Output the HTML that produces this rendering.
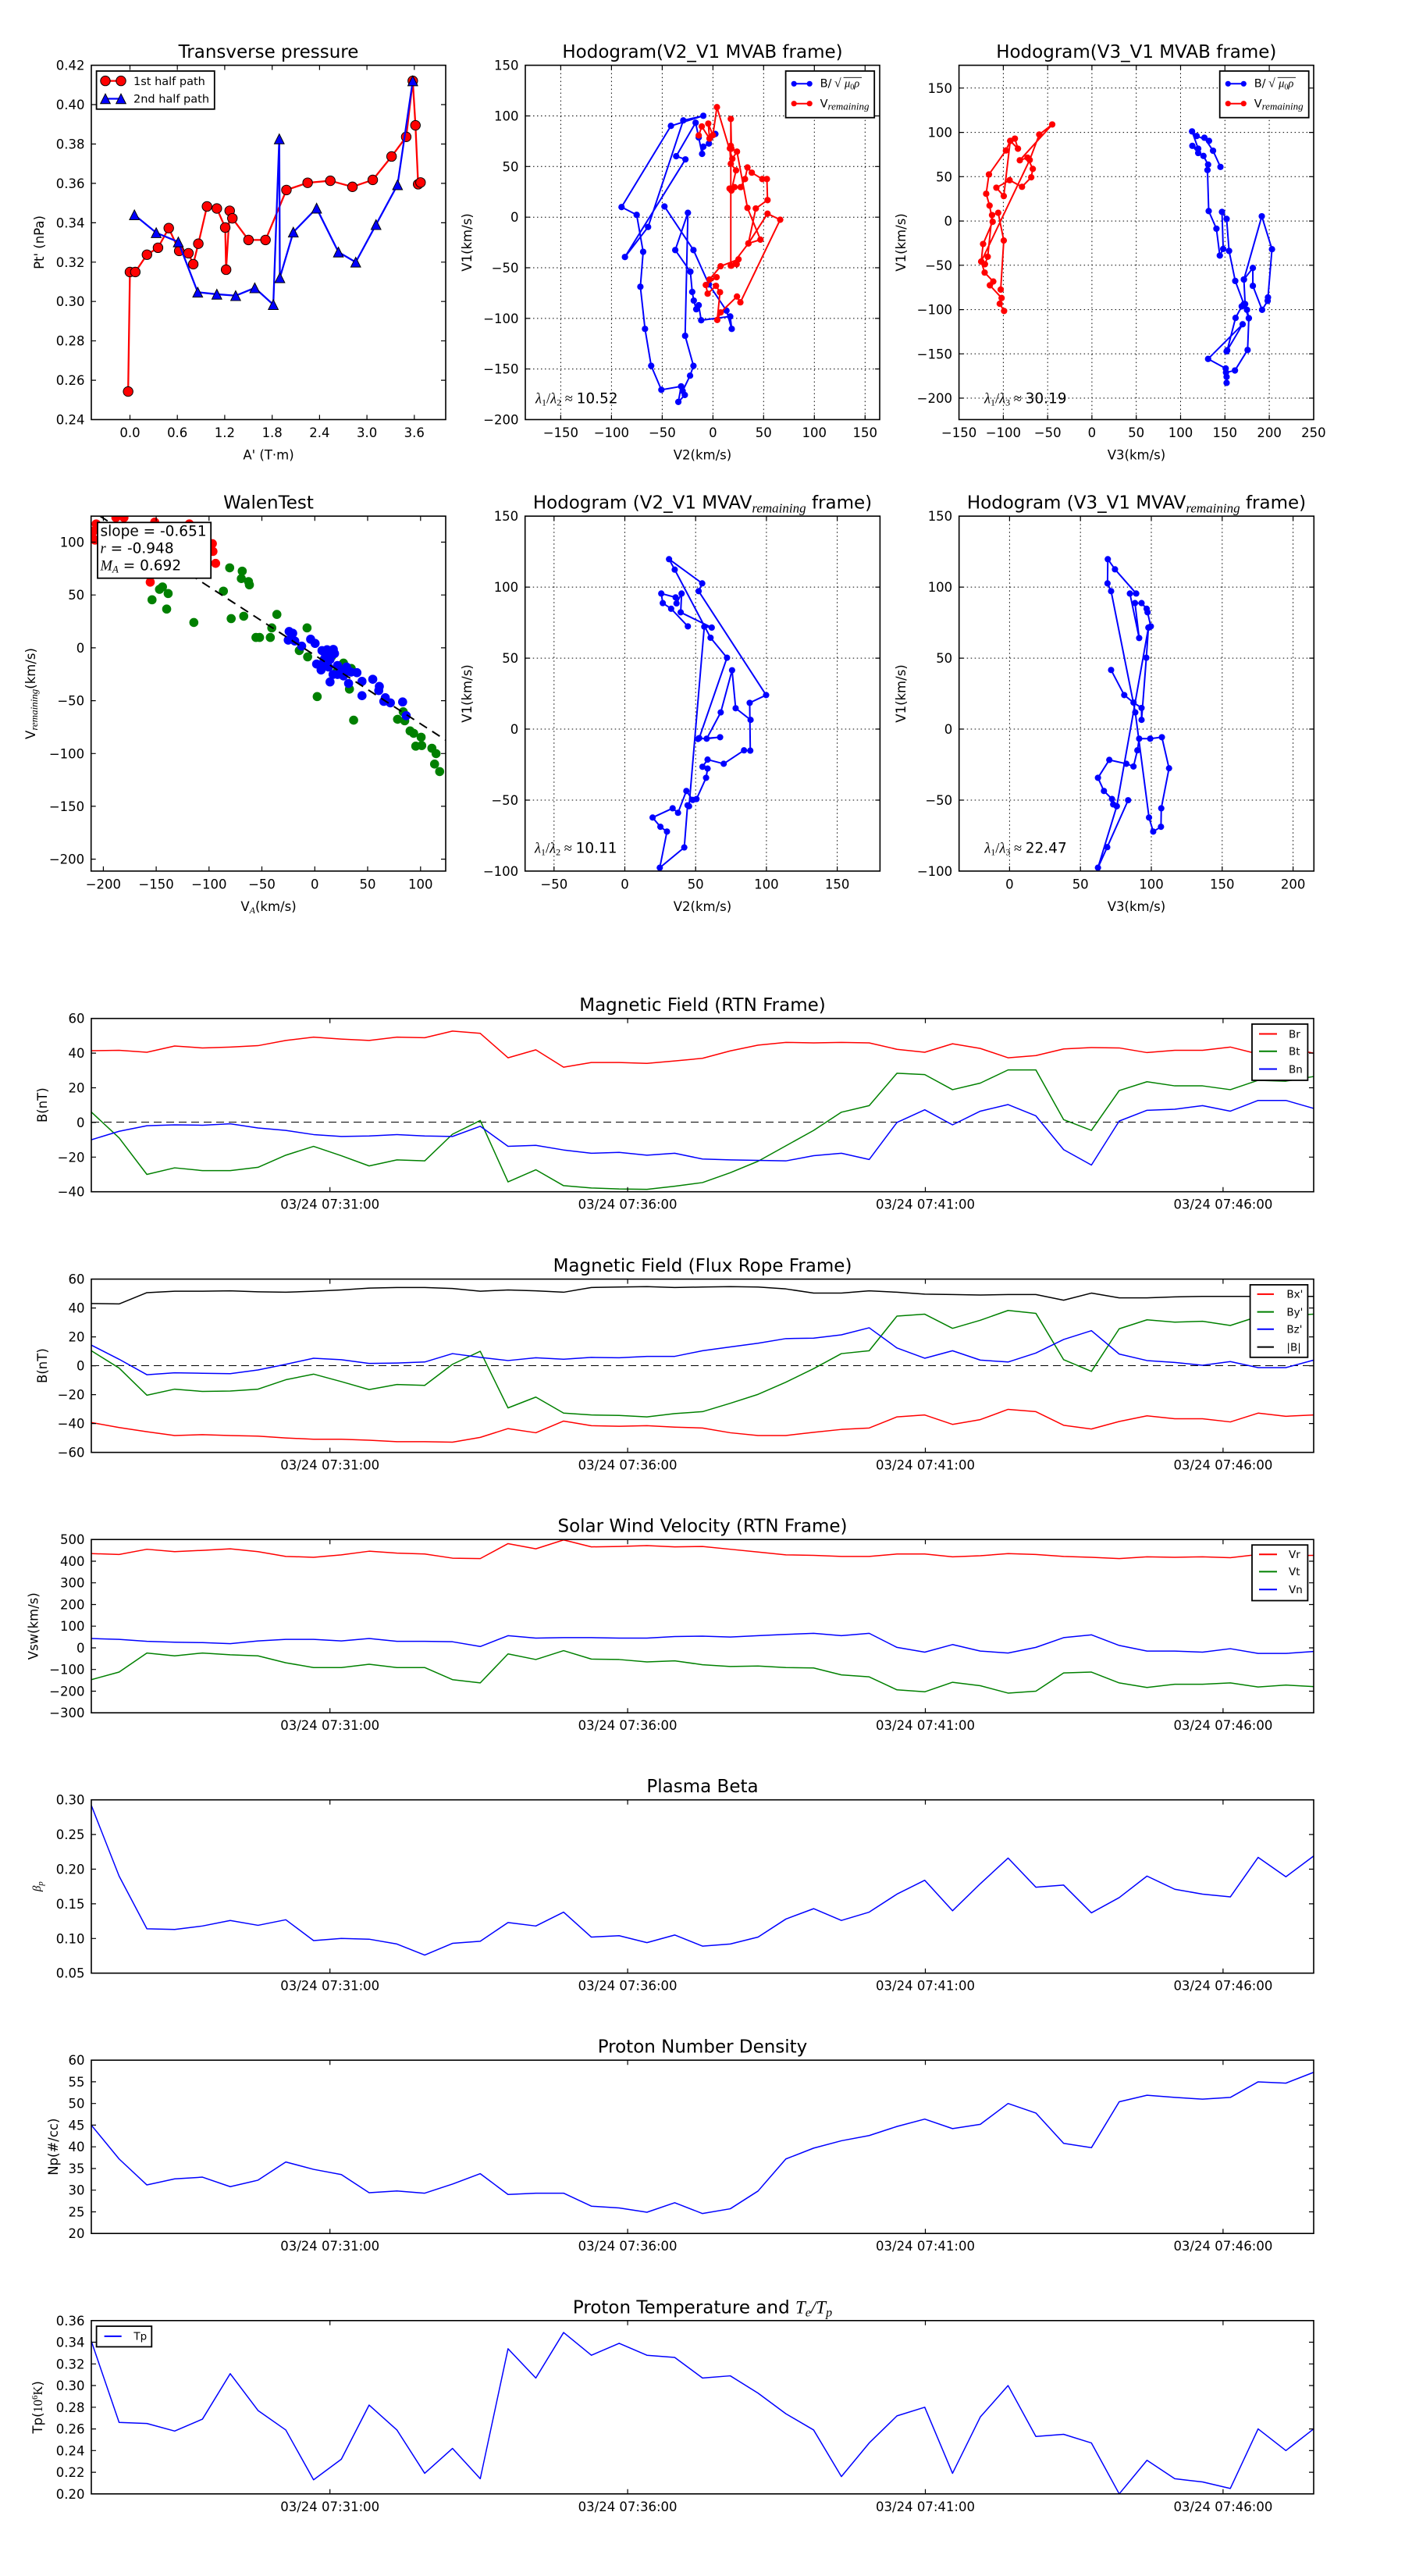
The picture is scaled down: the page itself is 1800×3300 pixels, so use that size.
<!DOCTYPE html>
<html><head><meta charset="utf-8"><style>
html,body{margin:0;padding:0;background:#fff;}
svg{display:block;}
text{font-family:"DejaVu Sans","Liberation Sans",sans-serif;fill:#000;}
.ti{font-size:23px;text-anchor:middle;}
.tk{font-size:16.5px;}
.tx{font-size:16.5px;text-anchor:middle;}
.ty{font-size:16.5px;text-anchor:end;}
.lb{font-size:16.5px;text-anchor:middle;}
.m{font-family:"Liberation Serif","DejaVu Serif",serif;font-style:italic;}
.mn{font-family:"Liberation Serif","DejaVu Serif",serif;font-style:normal;}
.ln{fill:none;vector-effect:non-scaling-stroke;stroke-linejoin:round;}
.sp{fill:none;stroke:#000;stroke-width:1.6;}
.tkp{fill:none;stroke:#000;stroke-width:1.2;}
.gr{fill:none;stroke:#000;stroke-width:1;stroke-dasharray:1.5 3.5;}
.lg{fill:#fff;stroke:#000;stroke-width:1.8;}
.lt{font-size:14.5px;}
.ls{font-size:13.5px;}
</style></head><body>
<svg width="1800" height="3300" viewBox="0 0 1800 3300" xmlns="http://www.w3.org/2000/svg">
<rect x="0" y="0" width="1800" height="3300" fill="#fff"/>
<defs>
<marker id="mc" markerUnits="userSpaceOnUse" markerWidth="40" markerHeight="40" refX="0" refY="0" overflow="visible"><ellipse cx="0" cy="0" rx="16.2" ry="16.76" fill="#f00" stroke="#000" stroke-width="2.6"/></marker>
<marker id="mt" markerUnits="userSpaceOnUse" markerWidth="40" markerHeight="40" refX="0" refY="0" overflow="visible"><path d="M0 -17L-16.5 17L16.5 17Z" fill="#00f" stroke="#000" stroke-width="2.6"/></marker>
<marker id="mb1" markerUnits="userSpaceOnUse" markerWidth="30" markerHeight="30" refX="0" refY="0" overflow="visible"><ellipse cx="0" cy="0" rx="10.4" ry="11.1" fill="#00f"/></marker>
<marker id="mr1" markerUnits="userSpaceOnUse" markerWidth="30" markerHeight="30" refX="0" refY="0" overflow="visible"><ellipse cx="0" cy="0" rx="10.4" ry="11.1" fill="#f00"/></marker>
<marker id="mb2" markerUnits="userSpaceOnUse" markerWidth="30" markerHeight="30" refX="0" refY="0" overflow="visible"><circle cx="0" cy="0" r="10.6" fill="#00f"/></marker>
<marker id="wr" markerUnits="userSpaceOnUse" markerWidth="40" markerHeight="40" refX="0" refY="0" overflow="visible"><circle cx="0" cy="0" r="15.2" fill="#f00"/></marker>
<marker id="wg" markerUnits="userSpaceOnUse" markerWidth="40" markerHeight="40" refX="0" refY="0" overflow="visible"><circle cx="0" cy="0" r="15.2" fill="#008000"/></marker>
<marker id="wb" markerUnits="userSpaceOnUse" markerWidth="40" markerHeight="40" refX="0" refY="0" overflow="visible"><circle cx="0" cy="0" r="15.2" fill="#00f"/></marker>
<clipPath id="cw"><rect x="116.7" y="661.2" width="454.3" height="454.7"/></clipPath>
</defs>

<!-- ============ ROW 1 PANEL 1: Transverse pressure ============ -->
<g transform="scale(0.38265,0.3699)">
<polyline class="ln" stroke="#f00" stroke-width="2.3" marker-start="url(#mc)" marker-mid="url(#mc)" marker-end="url(#mc)" points="429,1356 435,942 453,942 492,882 529,858 565,790 600,869 631,877 647,915 664,844 693,715 726,722 754,788 757,934 769,730 778,756 832,831 889,831 959,658 1030,633 1106,626 1180,647 1248,623 1311,542 1360,474 1382,280 1391,434 1400,638 1408,632"/>
<polyline class="ln" stroke="#00f" stroke-width="2.3" marker-start="url(#mt)" marker-mid="url(#mt)" marker-end="url(#mt)" points="450,744 523,806 597,838 662,1012 726,1019 789,1024 853,997 915,1055 935,481 937,962 982,804 1060,721 1133,873 1191,908 1259,778 1331,640 1382,280"/>
</g>
<rect class="sp" x="117" y="83.6" width="454" height="453.9"/>
<path class="tkp" d="M166.5 537.5v-6M166.5 83.6v6M227.2 537.5v-6M227.2 83.6v6M287.9 537.5v-6M287.9 83.6v6M348.7 537.5v-6M348.7 83.6v6M409.4 537.5v-6M409.4 83.6v6M470.1 537.5v-6M470.1 83.6v6M530.8 537.5v-6M530.8 83.6v6M117 134h6M571 134h-6M117 184.5h6M571 184.5h-6M117 234.9h6M571 234.9h-6M117 285.4h6M571 285.4h-6M117 335.8h6M571 335.8h-6M117 386.2h6M571 386.2h-6M117 436.7h6M571 436.7h-6M117 487.1h6M571 487.1h-6"/>
<text class="ti" x="344" y="74">Transverse pressure</text>
<text class="tx" x="166.5" y="560">0.0</text><text class="tx" x="227.2" y="560">0.6</text><text class="tx" x="287.9" y="560">1.2</text><text class="tx" x="348.7" y="560">1.8</text><text class="tx" x="409.4" y="560">2.4</text><text class="tx" x="470.1" y="560">3.0</text><text class="tx" x="530.8" y="560">3.6</text>
<text class="ty" x="108.5" y="89.6">0.42</text><text class="ty" x="108.5" y="140">0.40</text><text class="ty" x="108.5" y="190.5">0.38</text><text class="ty" x="108.5" y="240.9">0.36</text><text class="ty" x="108.5" y="291.4">0.34</text><text class="ty" x="108.5" y="341.8">0.32</text><text class="ty" x="108.5" y="392.2">0.30</text><text class="ty" x="108.5" y="442.7">0.28</text><text class="ty" x="108.5" y="493.1">0.26</text><text class="ty" x="108.5" y="543.5">0.24</text>
<text class="lb" x="344" y="588.5">A' (T·m)</text>
<text class="lb" transform="translate(56,310.5) rotate(-90)">Pt' (nPa)</text>
<rect class="lg" x="123.6" y="91" width="151.2" height="48.8"/>
<line x1="135" y1="103.6" x2="155" y2="103.6" stroke="#f00" stroke-width="2.3"/>
<circle cx="135" cy="103.6" r="6.2" fill="#f00" stroke="#000" stroke-width="1"/><circle cx="155" cy="103.6" r="6.2" fill="#f00" stroke="#000" stroke-width="1"/>
<line x1="135" y1="126.5" x2="155" y2="126.5" stroke="#00f" stroke-width="2.3"/>
<path d="M135 120.2l-6.3 12.6h12.6zM155 120.2l-6.3 12.6h12.6z" fill="#00f" stroke="#000" stroke-width="1"/>
<text class="lt" x="171" y="108.8">1st half path</text>
<text class="lt" x="171" y="131.7">2nd half path</text>

<!-- ============ ROW 1 PANEL 2 ============ -->
<path class="gr" d="M718.4 83.6V537.5M783.4 83.6V537.5M848.4 83.6V537.5M913.4 83.6V537.5M978.3 83.6V537.5M1043.3 83.6V537.5M1108.3 83.6V537.5M673 148.5H1127M673 213.3H1127M673 278.2H1127M673 343H1127M673 407.9H1127M673 472.7H1127"/>
<g transform="translate(580,0) scale(0.39541,0.3699)">
<polyline class="ln" stroke="#00f" stroke-width="2" marker-start="url(#mb1)" marker-mid="url(#mb1)" marker-end="url(#mb1)" points="686,715 780,866 830,985 887,1076 904,1139 899,1096 805,1109 797,1057 789,1071 781,1041 776,1011 770,941 721,866 762,737 753,1163 780,1267 769,1301 745,1354 752,1368 731,1392 740,1338 676,1350 643,1267 623,1139 608,993 617,872 596,744 547,717 707,436 812,401 747,417 633,786 558,890 754,552 724,541 787,425 797,476 808,533 812,508 830,497 851,464"/>
<polyline class="ln" stroke="#f00" stroke-width="2" marker-start="url(#mr1)" marker-mid="url(#mr1)" marker-end="url(#mr1)" points="797,469 807,438 832,480 828,428 843,468 856,371 906,550 921,525 955,720 997,830 958,843 982,722 1020,693 1018,620 1003,620 969,598 955,580 947,620 933,648 913,648 897,653 903,660 918,590 901,567 898,514 901,505 903,515 901,412 901,920 920,915 926,898 868,922 832,968 855,960 820,987 826,1017 853,990 866,1012 857,1108 868,1082 921,1027 932,1047 1061,761 1020,740 958,843 903,920"/>
</g>
<rect class="sp" x="673" y="83.6" width="454" height="453.9"/>
<path class="tkp" d="M718.4 537.5v-6M718.4 83.6v6M783.4 537.5v-6M783.4 83.6v6M848.4 537.5v-6M848.4 83.6v6M913.4 537.5v-6M913.4 83.6v6M978.3 537.5v-6M978.3 83.6v6M1043.3 537.5v-6M1043.3 83.6v6M1108.3 537.5v-6M1108.3 83.6v6M673 148.5h6M1127 148.5h-6M673 213.3h6M1127 213.3h-6M673 278.2h6M1127 278.2h-6M673 343h6M1127 343h-6M673 407.9h6M1127 407.9h-6M673 472.7h6M1127 472.7h-6"/>
<text class="ti" x="900" y="74">Hodogram(V2_V1 MVAB frame)</text>
<text class="tx" x="718.4" y="560">−150</text><text class="tx" x="783.4" y="560">−100</text><text class="tx" x="848.4" y="560">−50</text><text class="tx" x="913.4" y="560">0</text><text class="tx" x="978.3" y="560">50</text><text class="tx" x="1043.3" y="560">100</text><text class="tx" x="1108.3" y="560">150</text>
<text class="ty" x="664.5" y="89.6">150</text><text class="ty" x="664.5" y="154.5">100</text><text class="ty" x="664.5" y="219.3">50</text><text class="ty" x="664.5" y="284.2">0</text><text class="ty" x="664.5" y="349">−50</text><text class="ty" x="664.5" y="413.9">−100</text><text class="ty" x="664.5" y="478.7">−150</text><text class="ty" x="664.5" y="543.5">−200</text>
<text class="lb" x="900" y="588.5">V2(km/s)</text>
<text class="lb" transform="translate(604,310.5) rotate(-90)">V1(km/s)</text>
<text x="686" y="516.5" font-size="18.5"><tspan class="m">λ</tspan><tspan class="mn" font-size="12" dy="3">1</tspan><tspan class="mn" dy="-3">/</tspan><tspan class="m">λ</tspan><tspan class="mn" font-size="12" dy="3">2</tspan><tspan class="mn" dy="-3">&#160;≈&#160;</tspan>10.52</text>
<rect class="lg" x="1006.6" y="91" width="113.6" height="59.7"/>
<line x1="1017.2" y1="107.3" x2="1037.2" y2="107.3" stroke="#00f" stroke-width="2"/><circle cx="1017.2" cy="107.3" r="3.6" fill="#00f"/><circle cx="1037.2" cy="107.3" r="3.6" fill="#00f"/>
<line x1="1017.2" y1="132.7" x2="1037.2" y2="132.7" stroke="#f00" stroke-width="2"/><circle cx="1017.2" cy="132.7" r="3.6" fill="#f00"/><circle cx="1037.2" cy="132.7" r="3.6" fill="#f00"/>
<text class="lt" x="1050.6" y="111.7">B/<tspan class="mn" x="1068.9" font-size="16">√</tspan><tspan class="m" x="1082">μ</tspan><tspan class="mn" font-size="10" dy="3">0</tspan><tspan class="m" dy="-3">ρ</tspan></text>
<line x1="1080.6" y1="99.3" x2="1104" y2="99.3" stroke="#000" stroke-width="0.9"/>
<text class="lt" x="1050.6" y="137.3">V<tspan class="m" font-size="13" dy="3">remaining</tspan></text>

<!-- ============ ROW 1 PANEL 3 ============ -->
<path class="gr" d="M1285.4 83.6V537.5M1342.2 83.6V537.5M1398.9 83.6V537.5M1455.7 83.6V537.5M1512.5 83.6V537.5M1569.3 83.6V537.5M1626.1 83.6V537.5M1228.6 112.8H1683M1228.6 169.6H1683M1228.6 226.3H1683M1228.6 283.1H1683M1228.6 339.8H1683M1228.6 396.6H1683M1228.6 453.3H1683M1228.6 510H1683"/>
<g transform="translate(1180,0) scale(0.39541,0.3699)">
<polyline class="ln" stroke="#00f" stroke-width="2" marker-start="url(#mb1)" marker-mid="url(#mb1)" marker-end="url(#mb1)" points="970,578 946,522 918,477 933,488 893,471 878,455 898,515 879,505 898,530 915,540 930,570 928,589 932,731 957,792 968,885 979,862 975,734 990,758 998,869 1018,973 1046,1053 1062,1102 1056,1073 1039,1061 1019,1101 992,1213 990,1217 1042,1123 930,1243 987,1276 990,1305 990,1326 988,1290 1017,1283 1058,1212 1062,1102 1050,1053 1046,968 1104,749 1137,863 1124,1030 1123,1042 1105,1073 1075,990 1075,928 1046,968"/>
<polyline class="ln" stroke="#f00" stroke-width="2" marker-start="url(#mr1)" marker-mid="url(#mr1)" marker-end="url(#mr1)" points="269,1077 255,1052 261,1032 223,988 234,975 206,944 195,906 201,845 232,768 222,712 211,671 220,604 275,521 289,488 304,480 314,515 289,488 268,679 244,650 287,624 327,647 357,614 362,585 345,546 320,555 425,431 383,466 352,554 195,906 207,915 216,889 230,745 250,737 268,833 258,1003"/>
</g>
<rect class="sp" x="1228.6" y="83.6" width="454.4" height="453.9"/>
<path class="tkp" d="M1285.4 537.5v-6M1285.4 83.6v6M1342.2 537.5v-6M1342.2 83.6v6M1398.9 537.5v-6M1398.9 83.6v6M1455.7 537.5v-6M1455.7 83.6v6M1512.5 537.5v-6M1512.5 83.6v6M1569.3 537.5v-6M1569.3 83.6v6M1626.1 537.5v-6M1626.1 83.6v6M1228.6 112.8h6M1683 112.8h-6M1228.6 169.6h6M1683 169.6h-6M1228.6 226.3h6M1683 226.3h-6M1228.6 283.1h6M1683 283.1h-6M1228.6 339.8h6M1683 339.8h-6M1228.6 396.6h6M1683 396.6h-6M1228.6 453.3h6M1683 453.3h-6M1228.6 510h6M1683 510h-6"/>
<text class="ti" x="1455.8" y="74">Hodogram(V3_V1 MVAB frame)</text>
<text class="tx" x="1228.6" y="560">−150</text><text class="tx" x="1285.4" y="560">−100</text><text class="tx" x="1342.2" y="560">−50</text><text class="tx" x="1398.9" y="560">0</text><text class="tx" x="1455.7" y="560">50</text><text class="tx" x="1512.5" y="560">100</text><text class="tx" x="1569.3" y="560">150</text><text class="tx" x="1626.1" y="560">200</text><text class="tx" x="1682.9" y="560">250</text>
<text class="ty" x="1220" y="118.8">150</text><text class="ty" x="1220" y="175.6">100</text><text class="ty" x="1220" y="232.3">50</text><text class="ty" x="1220" y="289.1">0</text><text class="ty" x="1220" y="345.8">−50</text><text class="ty" x="1220" y="402.6">−100</text><text class="ty" x="1220" y="459.3">−150</text><text class="ty" x="1220" y="516">−200</text>
<text class="lb" x="1456" y="588.5">V3(km/s)</text>
<text class="lb" transform="translate(1160,310.5) rotate(-90)">V1(km/s)</text>
<text x="1261" y="516.5" font-size="18.5"><tspan class="m">λ</tspan><tspan class="mn" font-size="12" dy="3">1</tspan><tspan class="mn" dy="-3">/</tspan><tspan class="m">λ</tspan><tspan class="mn" font-size="12" dy="3">3</tspan><tspan class="mn" dy="-3">&#160;≈&#160;</tspan>30.19</text>
<rect class="lg" x="1562.7" y="91" width="114" height="59.7"/>
<line x1="1573.3" y1="107.3" x2="1593.3" y2="107.3" stroke="#00f" stroke-width="2"/><circle cx="1573.3" cy="107.3" r="3.6" fill="#00f"/><circle cx="1593.3" cy="107.3" r="3.6" fill="#00f"/>
<line x1="1573.3" y1="132.7" x2="1593.3" y2="132.7" stroke="#f00" stroke-width="2"/><circle cx="1573.3" cy="132.7" r="3.6" fill="#f00"/><circle cx="1593.3" cy="132.7" r="3.6" fill="#f00"/>
<text class="lt" x="1606.7" y="111.7">B/<tspan class="mn" x="1625" font-size="16">√</tspan><tspan class="m" x="1638.1">μ</tspan><tspan class="mn" font-size="10" dy="3">0</tspan><tspan class="m" dy="-3">ρ</tspan></text>
<line x1="1636.7" y1="99.3" x2="1660" y2="99.3" stroke="#000" stroke-width="0.9"/>
<text class="lt" x="1606.7" y="137.3">V<tspan class="m" font-size="13" dy="3">remaining</tspan></text>

<!-- ============ ROW 2 PANEL 1: WalenTest ============ -->
<g clip-path="url(#cw)">
<g transform="translate(0,600) scale(0.38265)">
<polyline fill="none" stroke="none" marker-start="url(#wr)" marker-mid="url(#wr)" marker-end="url(#wr)" points="322,186 313,210 318,240 309,232 388,165 415,165 518,180 711,252 713,278 722,318 503,381 360,200 420,230 470,260 560,240 600,280 650,300 690,330 540,330 470,320 634,186"/>
<polyline fill="none" stroke="none" marker-start="url(#wg)" marker-mid="url(#wg)" marker-end="url(#wg)" points="509,440 534,405 544,397 563,419 558,471 649,516 769,333 811,344 808,369 832,379 835,390 748,411 774,503 816,495 927,489 910,534 857,566 869,566 905,566 1028,534 1002,610 1030,631 1062,764 1097,640 1150,652 1170,739 1176,670 1184,843 1331,840 1350,815 1355,845 1373,879 1385,887 1392,930 1410,900 1412,928 1446,937 1460,955 1455,990 1472,1015 1128,680 1110,630"/>
<polyline fill="none" stroke="none" marker-start="url(#wb)" marker-mid="url(#wb)" marker-end="url(#wb)" points="968,546 980,552 965,575 987,578 1010,595 1040,572 1055,586 1078,610 1095,607 1116,606 1090,625 1060,655 1075,675 1080,660 1100,665 1105,715 1115,690 1130,660 1140,680 1150,695 1160,665 1175,682 1195,684 1167,720 1212,713 1212,761 1248,706 1270,730 1268,744 1290,768 1285,780 1307,785 1348,782 1360,828 1120,620 1085,640 1130,690 1155,675 1100,615 1105,640"/>
</g>
<line x1="128.2" y1="661.2" x2="571" y2="948.1" stroke="#000" stroke-width="2" stroke-dasharray="11.5 8"/>
</g>
<rect class="sp" x="116.7" y="661.2" width="454.3" height="454.7"/>
<path class="tkp" d="M132.4 1115.9v-6M132.4 661.2v6M200.1 1115.9v-6M200.1 661.2v6M267.8 1115.9v-6M267.8 661.2v6M335.5 1115.9v-6M335.5 661.2v6M403.3 1115.9v-6M403.3 661.2v6M471 1115.9v-6M471 661.2v6M538.8 1115.9v-6M538.8 661.2v6M116.7 694.5h6M571 694.5h-6M116.7 762.2h6M571 762.2h-6M116.7 829.9h6M571 829.9h-6M116.7 897.6h6M571 897.6h-6M116.7 965.3h6M571 965.3h-6M116.7 1032.9h6M571 1032.9h-6M116.7 1100.6h6M571 1100.6h-6"/>
<rect x="125" y="669.3" width="145.2" height="71.4" fill="#fff" stroke="#000" stroke-width="1.8"/>
<text x="128.5" y="686.7" font-size="18.5">slope = -0.651</text>
<text x="128.5" y="708.5" font-size="18.5"><tspan class="m">r</tspan>&#160;= -0.948</text>
<text x="128.5" y="730.7" font-size="18.5"><tspan class="m">M</tspan><tspan class="m" font-size="13" dy="3">A</tspan><tspan dy="-3">&#160;= 0.692</tspan></text>
<text class="ti" x="344" y="651.5">WalenTest</text>
<text class="tx" x="132.4" y="1138.4">−200</text><text class="tx" x="200.1" y="1138.4">−150</text><text class="tx" x="267.8" y="1138.4">−100</text><text class="tx" x="335.5" y="1138.4">−50</text><text class="tx" x="403.3" y="1138.4">0</text><text class="tx" x="471" y="1138.4">50</text><text class="tx" x="538.8" y="1138.4">100</text>
<text class="ty" x="108.2" y="700.5">100</text><text class="ty" x="108.2" y="768.2">50</text><text class="ty" x="108.2" y="835.9">0</text><text class="ty" x="108.2" y="903.6">−50</text><text class="ty" x="108.2" y="971.3">−100</text><text class="ty" x="108.2" y="1038.9">−150</text><text class="ty" x="108.2" y="1106.6">−200</text>
<text class="lb" x="344" y="1167">V<tspan class="m" font-size="12" dy="3">A</tspan><tspan dy="-3">(km/s)</tspan></text>
<text class="lb" transform="translate(45,888.5) rotate(-90)">V<tspan class="m" font-size="13" dy="3">remaining</tspan><tspan dy="-3">(km/s)</tspan></text>

<!-- ============ ROW 2 PANEL 2 ============ -->
<path class="gr" d="M709.8 661.2V1115.9M800.5 661.2V1115.9M891.2 661.2V1115.9M981.9 661.2V1115.9M1072.6 661.2V1115.9M672.7 752.1H1127.4M672.7 843.1H1127.4M672.7 934H1127.4M672.7 1025H1127.4"/>
<g transform="translate(600,600) scale(0.38265)">
<polyline class="ln" stroke="#00f" stroke-width="2" marker-start="url(#mb2)" marker-mid="url(#mb2)" marker-end="url(#mb2)" points="735,529 679,470 651,451 646,419 694,432 697,452 714,419 711,482 815,533 790,530 739,1131 734,1128 723,1269 641,1337 665,1216 643,1200 617,1169 684,1138 702,1153 730,1080 751,1110 764,1107 796,1036 801,1005 784,999 801,975 855,989 923,944 944,945 942,785 997,759 771,411 783,385 672,304 691,339 811,567 866,634 773,903 769,906 843,900 798,905 845,817 883,676 895,803 945,842"/>
</g>
<rect class="sp" x="672.7" y="661.2" width="454.7" height="454.7"/>
<path class="tkp" d="M709.8 1115.9v-6M709.8 661.2v6M800.5 1115.9v-6M800.5 661.2v6M891.2 1115.9v-6M891.2 661.2v6M981.9 1115.9v-6M981.9 661.2v6M1072.6 1115.9v-6M1072.6 661.2v6M672.7 752.1h6M1127.4 752.1h-6M672.7 843.1h6M1127.4 843.1h-6M672.7 934h6M1127.4 934h-6M672.7 1025h6M1127.4 1025h-6"/>
<text class="ti" x="900" y="651.5">Hodogram (V2_V1 MVAV<tspan class="m" font-size="17" dy="5">remaining</tspan><tspan dy="-5">&#160;frame)</tspan></text>
<text class="tx" x="709.8" y="1138.4">−50</text><text class="tx" x="800.5" y="1138.4">0</text><text class="tx" x="891.2" y="1138.4">50</text><text class="tx" x="981.9" y="1138.4">100</text><text class="tx" x="1072.6" y="1138.4">150</text>
<text class="ty" x="664.2" y="667.2">150</text><text class="ty" x="664.2" y="758.1">100</text><text class="ty" x="664.2" y="849.1">50</text><text class="ty" x="664.2" y="940">0</text><text class="ty" x="664.2" y="1031">−50</text><text class="ty" x="664.2" y="1121.9">−100</text>
<text class="lb" x="900" y="1167">V2(km/s)</text>
<text class="lb" transform="translate(604,888.5) rotate(-90)">V1(km/s)</text>
<text x="685" y="1092.5" font-size="18.5"><tspan class="m">λ</tspan><tspan class="mn" font-size="12" dy="3">1</tspan><tspan class="mn" dy="-3">/</tspan><tspan class="m">λ</tspan><tspan class="mn" font-size="12" dy="3">2</tspan><tspan class="mn" dy="-3">&#160;≈&#160;</tspan>10.11</text>

<!-- ============ ROW 2 PANEL 3 ============ -->
<path class="gr" d="M1293.4 661.2V1115.9M1384.2 661.2V1115.9M1475 661.2V1115.9M1565.8 661.2V1115.9M1656.6 661.2V1115.9M1228.7 752.1H1683.3M1228.7 843.1H1683.3M1228.7 934H1683.3M1228.7 1025H1683.3"/>
<g transform="translate(1200,600) scale(0.38265)">
<polyline class="ln" stroke="#00f" stroke-width="2" marker-start="url(#mb2)" marker-mid="url(#mb2)" marker-end="url(#mb2)" points="584,675 628,759 659,784 686,802 686,842 702,634 709,533 717,529 706,482 703,470 686,451 664,451 678,568 647,419 668,419 597,338 573,304 572,385 584,411 665,817 711,1169 725,1216 751,1200 752,1138 778,1004 754,900 715,905 678,905 672,944 659,998 635,989 578,976 540,1036 560,1080 587,1107 591,1125 603,1131 709,533"/>
<polyline class="ln" stroke="#00f" stroke-width="2" marker-start="url(#mb2)" marker-mid="url(#mb2)" marker-end="url(#mb2)" points="641,1111 571,1268 540,1337 603,1131"/>
</g>
<rect class="sp" x="1228.7" y="661.2" width="454.6" height="454.7"/>
<path class="tkp" d="M1293.4 1115.9v-6M1293.4 661.2v6M1384.2 1115.9v-6M1384.2 661.2v6M1475 1115.9v-6M1475 661.2v6M1565.8 1115.9v-6M1565.8 661.2v6M1656.6 1115.9v-6M1656.6 661.2v6M1228.7 752.1h6M1683.3 752.1h-6M1228.7 843.1h6M1683.3 843.1h-6M1228.7 934h6M1683.3 934h-6M1228.7 1025h6M1683.3 1025h-6"/>
<text class="ti" x="1456" y="651.5">Hodogram (V3_V1 MVAV<tspan class="m" font-size="17" dy="5">remaining</tspan><tspan dy="-5">&#160;frame)</tspan></text>
<text class="tx" x="1293.4" y="1138.4">0</text><text class="tx" x="1384.2" y="1138.4">50</text><text class="tx" x="1475" y="1138.4">100</text><text class="tx" x="1565.8" y="1138.4">150</text><text class="tx" x="1656.6" y="1138.4">200</text>
<text class="ty" x="1220.2" y="667.2">150</text><text class="ty" x="1220.2" y="758.1">100</text><text class="ty" x="1220.2" y="849.1">50</text><text class="ty" x="1220.2" y="940">0</text><text class="ty" x="1220.2" y="1031">−50</text><text class="ty" x="1220.2" y="1121.9">−100</text>
<text class="lb" x="1456" y="1167">V3(km/s)</text>
<text class="lb" transform="translate(1160,888.5) rotate(-90)">V1(km/s)</text>
<text x="1261.2" y="1092.5" font-size="18.5"><tspan class="m">λ</tspan><tspan class="mn" font-size="12" dy="3">1</tspan><tspan class="mn" dy="-3">/</tspan><tspan class="m">λ</tspan><tspan class="mn" font-size="12" dy="3">3</tspan><tspan class="mn" dy="-3">&#160;≈&#160;</tspan>22.47</text>

<!-- ============ TS1: Magnetic Field RTN ============ -->
<line x1="117" y1="1437.5" x2="1683" y2="1437.5" stroke="#000" stroke-width="1" stroke-dasharray="10 6"/>
<g transform="translate(117,1304.7) scale(35.5909,-2.22) translate(0,-60)">
<polyline class="ln" stroke="#f00" stroke-width="1.5" points="0,41.4 1,41.6 2,40.5 3,44.1 4,43 5,43.5 6,44.3 7,47.3 8,49.2 9,48.1 10,47.3 11,49.2 12,48.9 13,52.7 14,51.4 15,37.3 16,41.9 17,31.9 18,34.6 19,34.6 20,34.1 21,35.5 22,37 23,41.3 24,44.6 25,46.2 26,45.9 27,46.2 28,45.9 29,42.2 30,40.5 31,45.4 32,42.7 33,37.3 34,38.6 35,42.4 36,43.2 37,43 38,40.3 39,41.6 40,41.6 41,43.5 42,39.5 43,43 44,40"/>
<polyline class="ln" stroke="#008000" stroke-width="1.5" points="0,6 1,-8.9 2,-30 3,-26.2 4,-27.8 5,-27.8 6,-25.9 7,-18.9 8,-13.8 9,-19.2 10,-25.1 11,-21.6 12,-22.2 13,-6.8 14,1.1 15,-34.3 16,-27.3 17,-36.5 18,-37.8 19,-38.4 20,-38.6 21,-36.8 22,-34.7 23,-29 24,-22.4 25,-13.5 26,-4.6 27,5.9 28,9.7 29,28.4 30,27.6 31,18.9 32,22.7 33,30.3 34,30.3 35,1.6 36,-4.6 37,18.4 38,23.5 39,21.1 40,21.1 41,18.9 42,24.3 43,23.8 44,26.5"/>
<polyline class="ln" stroke="#00f" stroke-width="1.5" points="0,-10 1,-5.1 2,-1.9 3,-1.4 4,-1.6 5,-0.8 6,-3.2 7,-4.6 8,-7 9,-8.1 10,-7.8 11,-7 12,-7.8 13,-8.1 14,-2.2 15,-13.8 16,-13.2 17,-15.9 18,-17.8 19,-17.3 20,-18.9 21,-17.8 22,-21.1 23,-21.6 24,-21.9 25,-22.2 26,-19.2 27,-17.8 28,-21.4 29,0 30,7.3 31,-1.4 32,6.5 33,10.3 34,3.8 35,-15.7 36,-24.6 37,0.8 38,7 39,7.6 40,9.7 41,6.5 42,12.7 43,12.7 44,8.1"/>
</g>
<rect class="sp" x="117" y="1304.7" width="1566" height="222"/>
<path class="tkp" d="M422.7 1526.7v-6M422.7 1304.7v6M804.1 1526.7v-6M804.1 1304.7v6M1185.5 1526.7v-6M1185.5 1304.7v6M1566.9 1526.7v-6M1566.9 1304.7v6M117 1349.1h6M1683 1349.1h-6M117 1393.5h6M1683 1393.5h-6M117 1437.9h6M1683 1437.9h-6M117 1482.3h6M1683 1482.3h-6"/>
<text class="ti" x="900" y="1295.2">Magnetic Field (RTN Frame)</text>
<text class="tx" x="422.7" y="1548.7">03/24 07:31:00</text><text class="tx" x="804.1" y="1548.7">03/24 07:36:00</text><text class="tx" x="1185.5" y="1548.7">03/24 07:41:00</text><text class="tx" x="1566.9" y="1548.7">03/24 07:46:00</text>
<text class="ty" x="108.5" y="1310.7">60</text><text class="ty" x="108.5" y="1355.1">40</text><text class="ty" x="108.5" y="1399.5">20</text><text class="ty" x="108.5" y="1443.9">0</text><text class="ty" x="108.5" y="1488.3">−20</text><text class="ty" x="108.5" y="1532.7">−40</text>
<text class="lb" transform="translate(60,1415.7) rotate(-90)">B(nT)</text>
<rect class="lg" x="1604" y="1311.9" width="71.4" height="72"/>
<line x1="1613" y1="1324.5" x2="1636" y2="1324.5" stroke="#f00" stroke-width="2"/><line x1="1613" y1="1346.7" x2="1636" y2="1346.7" stroke="#008000" stroke-width="2"/><line x1="1613" y1="1369.5" x2="1636" y2="1369.5" stroke="#00f" stroke-width="2"/>
<text class="ls" x="1651" y="1329.3">Br</text><text class="ls" x="1651" y="1351.5">Bt</text><text class="ls" x="1651" y="1374.3">Bn</text>

<!-- ============ TS2: Flux Rope ============ -->
<line x1="117" y1="1749.5" x2="1683" y2="1749.5" stroke="#000" stroke-width="1" stroke-dasharray="10 6"/>
<g transform="translate(117,1638.6) scale(35.5909,-1.85) translate(0,-60)">
<polyline class="ln" stroke="#f00" stroke-width="1.5" points="0,-39.3 1,-42.8 2,-45.7 3,-48.3 4,-47.7 5,-48.3 6,-48.7 7,-50 8,-50.9 9,-50.9 10,-51.6 11,-52.6 12,-52.6 13,-52.9 14,-49.6 15,-43.5 16,-46.4 17,-38.3 18,-41.5 19,-41.9 20,-41.5 21,-42.5 22,-43.1 23,-46.4 24,-48.3 25,-48.3 26,-46.1 27,-44.1 28,-43.1 29,-35.4 30,-34.1 31,-40.6 32,-37.3 33,-30.2 34,-31.8 35,-41.2 36,-43.8 37,-38.6 38,-34.7 39,-36.7 40,-36.7 41,-38.9 42,-32.8 43,-35 44,-34.1"/>
<polyline class="ln" stroke="#008000" stroke-width="1.5" points="0,10.4 1,-1.6 2,-20.4 3,-16.2 4,-17.8 5,-17.5 6,-16.2 7,-9.7 8,-5.8 9,-11 10,-16.5 11,-13 12,-13.6 13,1 14,10 15,-29.2 16,-21.7 17,-32.8 18,-34.1 19,-34.4 20,-35.4 21,-33.1 22,-31.8 23,-26 24,-19.8 25,-11.4 26,-2 27,8.4 28,10.4 29,34.4 30,35.7 31,25.9 32,31.5 33,38.3 34,36.3 35,4.2 36,-3.9 37,25.6 38,31.8 39,30.2 40,30.8 41,27.9 42,34.1 43,34.7 44,35.7"/>
<polyline class="ln" stroke="#00f" stroke-width="1.5" points="0,14.3 1,4.5 2,-6.2 3,-4.9 4,-5.2 5,-5.5 6,-2.9 7,1 8,5.2 9,4.2 10,1.6 11,1.9 12,2.6 13,8.4 14,5.8 15,3.6 16,5.5 17,4.5 18,5.8 19,5.5 20,6.5 21,6.5 22,10.4 23,13 24,15.6 25,18.8 26,19.1 27,21.4 28,26.3 29,12.3 30,5.2 31,10.4 32,3.9 33,2.6 34,8.8 35,18.2 36,24.3 37,8.1 38,3.6 39,2.3 40,0.3 41,2.9 42,-1.3 43,-1.3 44,3.9"/>
<polyline class="ln" stroke="#000" stroke-width="1.5" points="0,43.1 1,42.8 2,50.6 3,51.6 4,51.6 5,51.9 6,51.2 7,50.9 8,51.6 9,52.5 10,53.8 11,54.2 12,54.2 13,53.5 14,51.6 15,52.5 16,51.9 17,50.9 18,54.2 19,54.5 20,54.8 21,54.2 22,54.5 23,54.8 24,54.5 25,53.2 26,50.3 27,50.3 28,51.9 29,50.9 30,49.6 31,49.3 32,49 33,49.3 34,49.3 35,45.4 36,50.3 37,47 38,47 39,47.7 40,48 41,48 42,48 43,48 44,48"/>
</g>
<rect class="sp" x="117" y="1638.6" width="1566" height="222"/>
<path class="tkp" d="M422.7 1860.6v-6M422.7 1638.6v6M804.1 1860.6v-6M804.1 1638.6v6M1185.5 1860.6v-6M1185.5 1638.6v6M1566.9 1860.6v-6M1566.9 1638.6v6M117 1675.6h6M1683 1675.6h-6M117 1712.6h6M1683 1712.6h-6M117 1749.6h6M1683 1749.6h-6M117 1786.6h6M1683 1786.6h-6M117 1823.6h6M1683 1823.6h-6"/>
<text class="ti" x="900" y="1629.1">Magnetic Field (Flux Rope Frame)</text>
<text class="tx" x="422.7" y="1882.6">03/24 07:31:00</text><text class="tx" x="804.1" y="1882.6">03/24 07:36:00</text><text class="tx" x="1185.5" y="1882.6">03/24 07:41:00</text><text class="tx" x="1566.9" y="1882.6">03/24 07:46:00</text>
<text class="ty" x="108.5" y="1644.6">60</text><text class="ty" x="108.5" y="1681.6">40</text><text class="ty" x="108.5" y="1718.6">20</text><text class="ty" x="108.5" y="1755.6">0</text><text class="ty" x="108.5" y="1792.6">−20</text><text class="ty" x="108.5" y="1829.6">−40</text><text class="ty" x="108.5" y="1866.6">−60</text>
<text class="lb" transform="translate(60,1749.6) rotate(-90)">B(nT)</text>
<rect class="lg" x="1601.6" y="1645.9" width="73.8" height="92.9"/>
<line x1="1610.6" y1="1657.9" x2="1632" y2="1657.9" stroke="#f00" stroke-width="2"/><line x1="1610.6" y1="1680.6" x2="1632" y2="1680.6" stroke="#008000" stroke-width="2"/><line x1="1610.6" y1="1702.8" x2="1632" y2="1702.8" stroke="#00f" stroke-width="2"/><line x1="1610.6" y1="1725.6" x2="1632" y2="1725.6" stroke="#000" stroke-width="2"/>
<text class="ls" x="1648.4" y="1662.7">Bx'</text><text class="ls" x="1648.4" y="1685.4">By'</text><text class="ls" x="1648.4" y="1707.6">Bz'</text><text class="ls" x="1648.4" y="1730.4">|B|</text>

<!-- ============ TS3: Velocity ============ -->
<g transform="translate(117,1972.2) scale(35.5909,-0.2775) translate(0,-500)">
<polyline class="ln" stroke="#f00" stroke-width="1.5" points="0,435 1,431 2,455 3,444 4,450 5,457 6,444 7,422 8,418 9,429 10,446 11,437 12,433 13,414 14,412 15,481 16,457 17,498 18,466 19,468 20,472 21,466 22,468 23,455 24,442 25,429 26,427 27,422 28,422 29,433 30,433 31,420 32,425 33,435 34,431 35,422 36,418 37,412 38,420 39,418 40,420 41,416 42,431 43,425 44,427"/>
<polyline class="ln" stroke="#008000" stroke-width="1.5" points="0,-147 1,-112 2,-24 3,-37 4,-24 5,-32 6,-37 7,-69 8,-91 9,-91 10,-76 11,-91 12,-91 13,-147 14,-162 15,-28 16,-54 17,-13 18,-52 19,-54 20,-65 21,-60 22,-78 23,-86 24,-84 25,-91 26,-93 27,-125 28,-134 29,-194 30,-203 31,-159 32,-175 33,-209 34,-200 35,-116 36,-112 37,-162 38,-183 39,-168 40,-168 41,-162 42,-181 43,-172 44,-179"/>
<polyline class="ln" stroke="#00f" stroke-width="1.5" points="0,43 1,39 2,30 3,26 4,24 5,19 6,32 7,39 8,39 9,32 10,43 11,30 12,30 13,28 14,6 15,56 16,45 17,47 18,47 19,45 20,45 21,52 22,54 23,50 24,56 25,62 26,67 27,56 28,67 29,2 30,-20 31,15 32,-15 33,-24 34,2 35,47 36,60 37,11 38,-15 39,-15 40,-20 41,-4 42,-26 43,-26 44,-17"/>
</g>
<rect class="sp" x="117" y="1972.2" width="1566" height="222"/>
<path class="tkp" d="M422.7 2194.2v-6M422.7 1972.2v6M804.1 2194.2v-6M804.1 1972.2v6M1185.5 2194.2v-6M1185.5 1972.2v6M1566.9 2194.2v-6M1566.9 1972.2v6M117 2000h6M1683 2000h-6M117 2027.7h6M1683 2027.7h-6M117 2055.5h6M1683 2055.5h-6M117 2083.2h6M1683 2083.2h-6M117 2111h6M1683 2111h-6M117 2138.7h6M1683 2138.7h-6M117 2166.5h6M1683 2166.5h-6"/>
<text class="ti" x="900" y="1962.7">Solar Wind Velocity (RTN Frame)</text>
<text class="tx" x="422.7" y="2216.2">03/24 07:31:00</text><text class="tx" x="804.1" y="2216.2">03/24 07:36:00</text><text class="tx" x="1185.5" y="2216.2">03/24 07:41:00</text><text class="tx" x="1566.9" y="2216.2">03/24 07:46:00</text>
<text class="ty" x="108.5" y="1978.2">500</text><text class="ty" x="108.5" y="2006">400</text><text class="ty" x="108.5" y="2033.7">300</text><text class="ty" x="108.5" y="2061.5">200</text><text class="ty" x="108.5" y="2089.2">100</text><text class="ty" x="108.5" y="2117">0</text><text class="ty" x="108.5" y="2144.7">−100</text><text class="ty" x="108.5" y="2172.5">−200</text><text class="ty" x="108.5" y="2200.2">−300</text>
<text class="lb" transform="translate(48.5,2083.2) rotate(-90)">Vsw(km/s)</text>
<rect class="lg" x="1604" y="1979.2" width="71.4" height="71.3"/>
<line x1="1613" y1="1991.2" x2="1636" y2="1991.2" stroke="#f00" stroke-width="2"/><line x1="1613" y1="2013.4" x2="1636" y2="2013.4" stroke="#008000" stroke-width="2"/><line x1="1613" y1="2036.2" x2="1636" y2="2036.2" stroke="#00f" stroke-width="2"/>
<text class="ls" x="1651" y="1996">Vr</text><text class="ls" x="1651" y="2018.2">Vt</text><text class="ls" x="1651" y="2041">Vn</text>

<!-- ============ TS4: Plasma Beta ============ -->
<g transform="translate(117,2305.7) scale(35.5909,-888) translate(0,-0.3)">
<polyline class="ln" stroke="#00f" stroke-width="1.5" points="0,0.292 1,0.190 2,0.114 3,0.113 4,0.118 5,0.126 6,0.119 7,0.127 8,0.097 9,0.100 10,0.099 11,0.092 12,0.076 13,0.093 14,0.096 15,0.123 16,0.118 17,0.138 18,0.102 19,0.104 20,0.094 21,0.105 22,0.089 23,0.092 24,0.102 25,0.128 26,0.143 27,0.126 28,0.138 29,0.164 30,0.184 31,0.140 32,0.179 33,0.216 34,0.174 35,0.177 36,0.137 37,0.159 38,0.190 39,0.171 40,0.164 41,0.160 42,0.217 43,0.189 44,0.219"/>
</g>
<rect class="sp" x="117" y="2305.7" width="1566" height="222"/>
<path class="tkp" d="M422.7 2527.7v-6M422.7 2305.7v6M804.1 2527.7v-6M804.1 2305.7v6M1185.5 2527.7v-6M1185.5 2305.7v6M1566.9 2527.7v-6M1566.9 2305.7v6M117 2350.1h6M1683 2350.1h-6M117 2394.5h6M1683 2394.5h-6M117 2438.9h6M1683 2438.9h-6M117 2483.3h6M1683 2483.3h-6"/>
<text class="ti" x="900" y="2296.2">Plasma Beta</text>
<text class="tx" x="422.7" y="2549.7">03/24 07:31:00</text><text class="tx" x="804.1" y="2549.7">03/24 07:36:00</text><text class="tx" x="1185.5" y="2549.7">03/24 07:41:00</text><text class="tx" x="1566.9" y="2549.7">03/24 07:46:00</text>
<text class="ty" x="108.5" y="2311.7">0.30</text><text class="ty" x="108.5" y="2356.1">0.25</text><text class="ty" x="108.5" y="2400.5">0.20</text><text class="ty" x="108.5" y="2444.9">0.15</text><text class="ty" x="108.5" y="2489.3">0.10</text><text class="ty" x="108.5" y="2533.7">0.05</text>
<text transform="translate(52,2416.7) rotate(-90)" font-size="15" text-anchor="middle"><tspan class="m">β</tspan><tspan class="m" font-size="11" dy="3">p</tspan></text>

<!-- ============ TS5: Density ============ -->
<g transform="translate(117,2639.2) scale(35.5909,-5.55) translate(0,-60)">
<polyline class="ln" stroke="#00f" stroke-width="1.5" points="0,45 1,37.2 2,31.2 3,32.6 4,33 5,30.8 6,32.3 7,36.5 8,34.8 9,33.6 10,29.4 11,29.8 12,29.3 13,31.4 14,33.8 15,29 16,29.3 17,29.3 18,26.3 19,25.9 20,24.9 21,27.1 22,24.6 23,25.7 24,29.8 25,37.2 26,39.7 27,41.4 28,42.6 29,44.7 30,46.4 31,44.2 32,45.2 33,50 34,47.8 35,40.8 36,39.8 37,50.4 38,51.9 39,51.4 40,51 41,51.4 42,55 43,54.7 44,57.2"/>
</g>
<rect class="sp" x="117" y="2639.2" width="1566" height="222"/>
<path class="tkp" d="M422.7 2861.2v-6M422.7 2639.2v6M804.1 2861.2v-6M804.1 2639.2v6M1185.5 2861.2v-6M1185.5 2639.2v6M1566.9 2861.2v-6M1566.9 2639.2v6M117 2666.9h6M1683 2666.9h-6M117 2694.7h6M1683 2694.7h-6M117 2722.4h6M1683 2722.4h-6M117 2750.2h6M1683 2750.2h-6M117 2778h6M1683 2778h-6M117 2805.7h6M1683 2805.7h-6M117 2833.5h6M1683 2833.5h-6"/>
<text class="ti" x="900" y="2629.7">Proton Number Density</text>
<text class="tx" x="422.7" y="2883.2">03/24 07:31:00</text><text class="tx" x="804.1" y="2883.2">03/24 07:36:00</text><text class="tx" x="1185.5" y="2883.2">03/24 07:41:00</text><text class="tx" x="1566.9" y="2883.2">03/24 07:46:00</text>
<text class="ty" x="108.5" y="2645.2">60</text><text class="ty" x="108.5" y="2672.9">55</text><text class="ty" x="108.5" y="2700.7">50</text><text class="ty" x="108.5" y="2728.4">45</text><text class="ty" x="108.5" y="2756.2">40</text><text class="ty" x="108.5" y="2784">35</text><text class="ty" x="108.5" y="2811.7">30</text><text class="ty" x="108.5" y="2839.5">25</text><text class="ty" x="108.5" y="2867.2">20</text>
<text class="lb" transform="translate(74,2750.2) rotate(-90)">Np(#/cc)</text>

<!-- ============ TS6: Temperature ============ -->
<g transform="translate(117,2972.8) scale(35.5909,-1387.5) translate(0,-0.36)">
<polyline class="ln" stroke="#00f" stroke-width="1.5" points="0,0.341 1,0.266 2,0.265 3,0.258 4,0.269 5,0.311 6,0.277 7,0.259 8,0.213 9,0.232 10,0.282 11,0.259 12,0.219 13,0.242 14,0.214 15,0.334 16,0.307 17,0.349 18,0.328 19,0.339 20,0.328 21,0.326 22,0.307 23,0.309 24,0.293 25,0.274 26,0.259 27,0.216 28,0.247 29,0.272 30,0.280 31,0.219 32,0.271 33,0.300 34,0.253 35,0.255 36,0.247 37,0.200 38,0.231 39,0.214 40,0.211 41,0.205 42,0.260 43,0.240 44,0.260"/>
</g>
<rect class="sp" x="117" y="2972.8" width="1566" height="222"/>
<path class="tkp" d="M422.7 3194.8v-6M422.7 2972.8v6M804.1 3194.8v-6M804.1 2972.8v6M1185.5 3194.8v-6M1185.5 2972.8v6M1566.9 3194.8v-6M1566.9 2972.8v6M117 3000.5h6M1683 3000.5h-6M117 3028.3h6M1683 3028.3h-6M117 3056h6M1683 3056h-6M117 3083.8h6M1683 3083.8h-6M117 3111.6h6M1683 3111.6h-6M117 3139.3h6M1683 3139.3h-6M117 3167.1h6M1683 3167.1h-6"/>
<text class="ti" x="900" y="2963.3">Proton Temperature and <tspan class="m">T</tspan><tspan class="m" font-size="16" dy="4">e</tspan><tspan class="m" dy="-4">/T</tspan><tspan class="m" font-size="16" dy="4">p</tspan></text>
<text class="tx" x="422.7" y="3216.8">03/24 07:31:00</text><text class="tx" x="804.1" y="3216.8">03/24 07:36:00</text><text class="tx" x="1185.5" y="3216.8">03/24 07:41:00</text><text class="tx" x="1566.9" y="3216.8">03/24 07:46:00</text>
<text class="ty" x="108.5" y="2978.8">0.36</text><text class="ty" x="108.5" y="3006.5">0.34</text><text class="ty" x="108.5" y="3034.3">0.32</text><text class="ty" x="108.5" y="3062">0.30</text><text class="ty" x="108.5" y="3089.8">0.28</text><text class="ty" x="108.5" y="3117.6">0.26</text><text class="ty" x="108.5" y="3145.3">0.24</text><text class="ty" x="108.5" y="3173.1">0.22</text><text class="ty" x="108.5" y="3200.8">0.20</text>
<text class="lb" transform="translate(54,3083.8) rotate(-90)">Tp(<tspan class="mn">10</tspan><tspan class="mn" font-size="11" dy="-6">6</tspan><tspan class="mn" dy="6">K</tspan>)</text>
<rect class="lg" x="123.6" y="2980" width="70.7" height="26.4"/>
<line x1="133.6" y1="2992.9" x2="155.7" y2="2992.9" stroke="#00f" stroke-width="2"/>
<text class="ls" x="171.4" y="2997.7">Tp</text>
</svg>
</body></html>
